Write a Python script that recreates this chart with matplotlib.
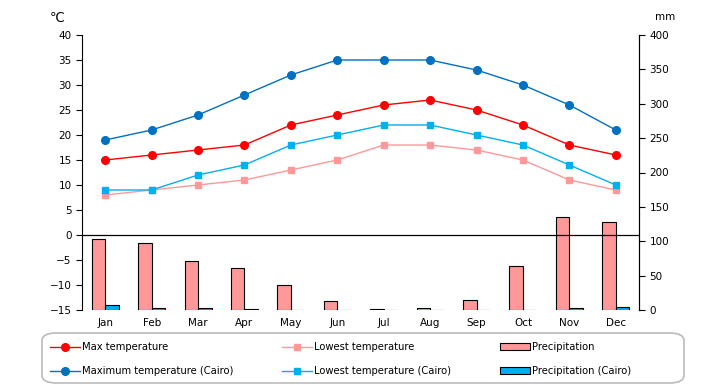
import matplotlib
matplotlib.use('Agg')
import matplotlib.pyplot as plt
from matplotlib.patches import FancyBboxPatch
import numpy as np

plt.rcParams['font.family'] = ['DejaVu Sans', 'Noto Sans CJK JP']
plt.rcParams['font.size'] = 7.5

months = ['Jan', 'Feb', 'Mar', 'Apr', 'May', 'Jun',
          'Jul', 'Aug', 'Sep', 'Oct', 'Nov', 'Dec']

max_temp = [15, 16, 17, 18, 22, 24, 26, 27, 25, 22, 18, 16]
low_temp = [8, 9, 10, 11, 13, 15, 18, 18, 17, 15, 11, 9]
precip = [103, 98, 71, 61, 36, 13, 1.5, 2.5, 14.5, 64, 135, 128]

max_cairo = [19, 21, 24, 28, 32, 35, 35, 35, 33, 30, 26, 21]
low_cairo = [9, 9, 12, 14, 18, 20, 22, 22, 20, 18, 14, 10]
precip_cairo = [7, 3, 3, 1, 0, 0, 0, 0, 0, 0, 2.5, 4.5]

x = np.arange(len(months))

fig = plt.figure(figsize=(7.2, 3.85), dpi=100)
ax = fig.add_axes([82 / 720, 1 - 310 / 385, (639 - 82) / 720, 275 / 385])
ax2 = ax.twinx()

# bars go on the twin axis, which sits underneath the temperature axis
ax.set_zorder(ax2.get_zorder() + 1)
ax.patch.set_visible(False)
ax2.set_facecolor('#FFFFCC')

w = 0.29
b1 = ax2.bar(x - w / 2, precip, w, color='#FF9999', edgecolor='black', linewidth=0.8,
             label='Precipitation')
b2 = ax2.bar(x + w / 2, precip_cairo, w, color='#00B0F0', edgecolor='black', linewidth=0.8,
             label='Precipitation (Cairo)')

l1, = ax.plot(x, max_temp, color='#FF0000', marker='o', markersize=5.5, linewidth=1,
              label='Max temperature')
l2, = ax.plot(x, max_cairo, color='#0070C0', marker='o', markersize=5.5, linewidth=1,
              label='Maximum temperature (Cairo)')
l3, = ax.plot(x, low_temp, color='#FF9999', marker='s', markersize=5, linewidth=1,
              label='Lowest temperature')
l4, = ax.plot(x, low_cairo, color='#00B0F0', marker='s', markersize=5, linewidth=1,
              label='Lowest temperature (Cairo)')
ax.axhline(0, color='black', linewidth=0.9)

ax.set_xlim(-0.5, 11.5)
ax.set_ylim(-15, 40)
ax.set_yticks(range(-15, 41, 5))
ax2.set_ylim(0, 400)
ax2.set_yticks(range(0, 401, 50))
ax.set_xticks(x)
ax.set_xticklabels(months)

for a in (ax, ax2):
    a.spines['top'].set_visible(False)
    a.spines['bottom'].set_visible(False)
    a.tick_params(axis='both', direction='out', length=4, width=0.8)
ax.tick_params(axis='x', length=0, pad=6)
ax2.spines['left'].set_visible(False)

fig.text(57 / 720, 1 - 18 / 385, '℃', ha='center', va='center', fontsize=9.5)
fig.text(665 / 720, 1 - 17 / 385, 'mm', ha='center', va='center')

# rounded legend frame
frame = FancyBboxPatch((42 / 720, 1 - 383 / 385), 642 / 720, 50 / 385,
                       boxstyle='round,pad=0,rounding_size=0.02',
                       transform=fig.transFigure, facecolor='white',
                       edgecolor='#BBBBBB', linewidth=1.2)
fig.patches.append(frame)

handles = [l1, l2, l3, l4, b1, b2]
leg = fig.legend(handles, [h.get_label() for h in handles], ncol=3,
                 loc='upper left', bbox_to_anchor=(50 / 720, 1 - 342 / 385),
                 frameon=False, fontsize=7.2, handlelength=3.0, handletextpad=0.2,
                 borderpad=0, borderaxespad=0, labelspacing=1.4, columnspacing=4.9)

fig.savefig('out.png', dpi=100)
